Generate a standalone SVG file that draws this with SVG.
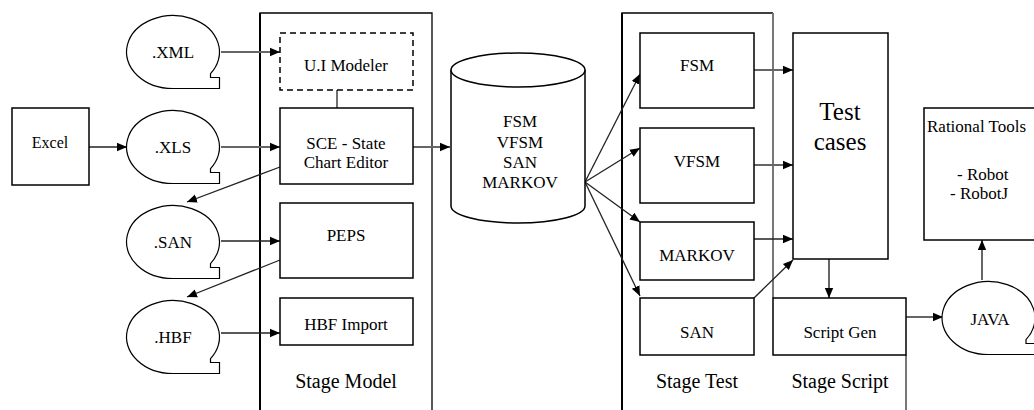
<svg xmlns="http://www.w3.org/2000/svg" width="1034" height="410" viewBox="0 0 1034 410">
<style>
.bg{fill:#fff}
.box{fill:#fff;stroke:#000;stroke-width:1.5}
.dash{fill:#fff;stroke:#000;stroke-width:1.5;stroke-dasharray:6 4}
.bub{fill:#fff;stroke:#000;stroke-width:1.2}
.cont{fill:none;stroke:#000;stroke-width:1.3}
.contg{fill:none;stroke:#777;stroke-width:2}
.ln{fill:none;stroke:#222;stroke-width:1.3}
.lng{fill:none;stroke:#666;stroke-width:2}
text{font-family:'Liberation Serif','DejaVu Serif',serif;font-size:17px;fill:#000;text-anchor:middle}
.stage{font-size:20px}
.big{font-size:25px}
.sm{font-size:16px}
.lt{text-anchor:start}
</style>
<defs>
<marker id="ah" markerUnits="userSpaceOnUse" markerWidth="10" markerHeight="10" refX="10" refY="5" orient="auto">
<path d="M0,0.8 L10,5 L0,9.2 Z" fill="#000"/>
</marker>
</defs>
<rect class="bg" x="0" y="0" width="1034" height="410"/>

<g id="containers" font-family="Liberation Serif, DejaVu Serif, serif">
<path class="cont" d="M260,410 V13 H432 V410"/>
<line x1="260" y1="13" x2="260" y2="410" stroke="#000" stroke-width="2"/>
<path class="cont" d="M622,410 V13 H773"/>
<line x1="622" y1="13" x2="622" y2="410" stroke="#000" stroke-width="2"/>
<line class="contg" x1="773" y1="13" x2="773" y2="298"/>
<line class="contg" x1="906" y1="355" x2="906" y2="410"/>
<text class="stage" x="346" y="388">Stage Model</text>
<text class="stage" x="697" y="388">Stage Test</text>
<text class="stage" x="840" y="388">Stage Script</text>
</g>

<g id="connectors">
<line class="ln" x1="89" y1="147" x2="127" y2="147" marker-end="url(#ah)"/>
<line class="lng" x1="221" y1="52" x2="280" y2="52" marker-end="url(#ah)"/>
<line class="lng" x1="221" y1="147" x2="280" y2="147" marker-end="url(#ah)"/>
<line class="ln" x1="221" y1="241" x2="280" y2="241" marker-end="url(#ah)"/>
<line class="ln" x1="221" y1="333" x2="280" y2="333" marker-end="url(#ah)"/>
<line class="ln" x1="280" y1="167" x2="187" y2="202" marker-start="url(#ah)" marker-end="url(#ah)"/>
<line class="ln" x1="280" y1="260" x2="187" y2="297" marker-end="url(#ah)"/>
<line class="ln" x1="337" y1="90" x2="337" y2="108"/>
<line class="lng" x1="413" y1="147" x2="450" y2="147" marker-end="url(#ah)"/>
<line class="ln" x1="585" y1="182" x2="640" y2="74" marker-end="url(#ah)"/>
<line class="ln" x1="585" y1="182" x2="640" y2="148" marker-end="url(#ah)"/>
<line class="ln" x1="585" y1="182" x2="640" y2="222" marker-end="url(#ah)"/>
<line class="ln" x1="585" y1="182" x2="640" y2="296" marker-end="url(#ah)"/>
<line class="lng" x1="754" y1="70" x2="793" y2="70" marker-end="url(#ah)"/>
<line class="lng" x1="754" y1="165" x2="793" y2="165" marker-end="url(#ah)"/>
<line class="ln" x1="754" y1="239" x2="793" y2="239" marker-end="url(#ah)"/>
<line class="ln" x1="754" y1="298" x2="793" y2="260" marker-end="url(#ah)"/>
<line class="lng" x1="829" y1="259" x2="829" y2="298" marker-end="url(#ah)"/>
<line class="lng" x1="906" y1="317" x2="943" y2="317" marker-end="url(#ah)"/>
<line class="lng" x1="982" y1="280" x2="982" y2="240" marker-end="url(#ah)"/>
</g>

<g id="excel">
<rect class="box" x="12" y="108" width="77" height="77"/>
<text class="sm" x="50" y="148">Excel</text>
</g>

<g id="xml">
<path class="bub" d="M210.5,73.6 V77.5 H219.5 V88.5 H174 A46.5,36.5 0 1 1 210.5,73.6 Z"/>
<text x="173" y="58">.XML</text>
</g>
<g id="xls">
<path class="bub" d="M210.5,168.6 V172.5 H219.5 V183.5 H174 A46.5,36.5 0 1 1 210.5,168.6 Z"/>
<text x="173" y="153">.XLS</text>
</g>
<g id="san">
<path class="bub" d="M210.5,263.6 V267.5 H219.5 V278.5 H174 A46.5,36.5 0 1 1 210.5,263.6 Z"/>
<text x="173" y="248">.SAN</text>
</g>
<g id="hbf">
<path class="bub" d="M210.5,358.6 V362.5 H219.5 V373.5 H174 A46.5,36.5 0 1 1 210.5,358.6 Z"/>
<text x="173" y="343">.HBF</text>
</g>

<g id="ui-modeler">
<rect class="dash" x="280" y="33" width="133" height="57"/>
<text x="346" y="71">U.I Modeler</text>
</g>
<g id="sce">
<rect class="box" x="280" y="108" width="133" height="76"/>
<text x="346" y="149">SCE - State</text>
<text x="346" y="168">Chart Editor</text>
</g>
<g id="peps">
<rect class="box" x="280" y="203" width="133" height="75"/>
<text x="346" y="241">PEPS</text>
</g>
<g id="hbf-import">
<rect class="box" x="280" y="298" width="133" height="47"/>
<text x="346" y="330">HBF Import</text>
</g>

<g id="repository">
<path class="box" d="M451,70 V206 A67,17 0 0 0 585,206 V70"/>
<ellipse class="box" cx="518" cy="70" rx="67" ry="17"/>
<text x="520" y="127">FSM</text>
<text x="520" y="148">VFSM</text>
<text x="520" y="168">SAN</text>
<text x="520" y="188">MARKOV</text>
</g>

<g id="fsm">
<rect class="box" x="640" y="33" width="114" height="75"/>
<text x="697" y="71">FSM</text>
</g>
<g id="vfsm">
<rect class="box" x="640" y="128" width="114" height="75"/>
<text x="697" y="167">VFSM</text>
</g>
<g id="markov">
<rect class="box" x="640" y="222" width="114" height="58"/>
<text x="697" y="261">MARKOV</text>
</g>
<g id="san-test">
<rect class="box" x="640" y="298" width="114" height="57"/>
<text x="697" y="338">SAN</text>
</g>

<g id="test-cases">
<rect class="box" x="793" y="33" width="95" height="226"/>
<text class="big" x="840" y="120">Test</text>
<text class="big" x="840" y="150">cases</text>
</g>
<g id="script-gen">
<rect class="box" x="773" y="298" width="133" height="57"/>
<text x="840" y="338">Script Gen</text>
</g>

<g id="java">
<path class="bub" d="M1026,339.6 V343.5 H1035 V354.5 H989.5 A46.5,36.5 0 1 1 1026,339.6 Z"/>
<text x="990" y="325">JAVA</text>
</g>
<g id="rational">
<rect class="box" x="924" y="108" width="115" height="132"/>
<text class="lt" x="927" y="132">Rational Tools</text>
<text class="lt" x="957" y="180">- Robot</text>
<text class="lt" x="950" y="199">- RobotJ</text>
</g>
</svg>
